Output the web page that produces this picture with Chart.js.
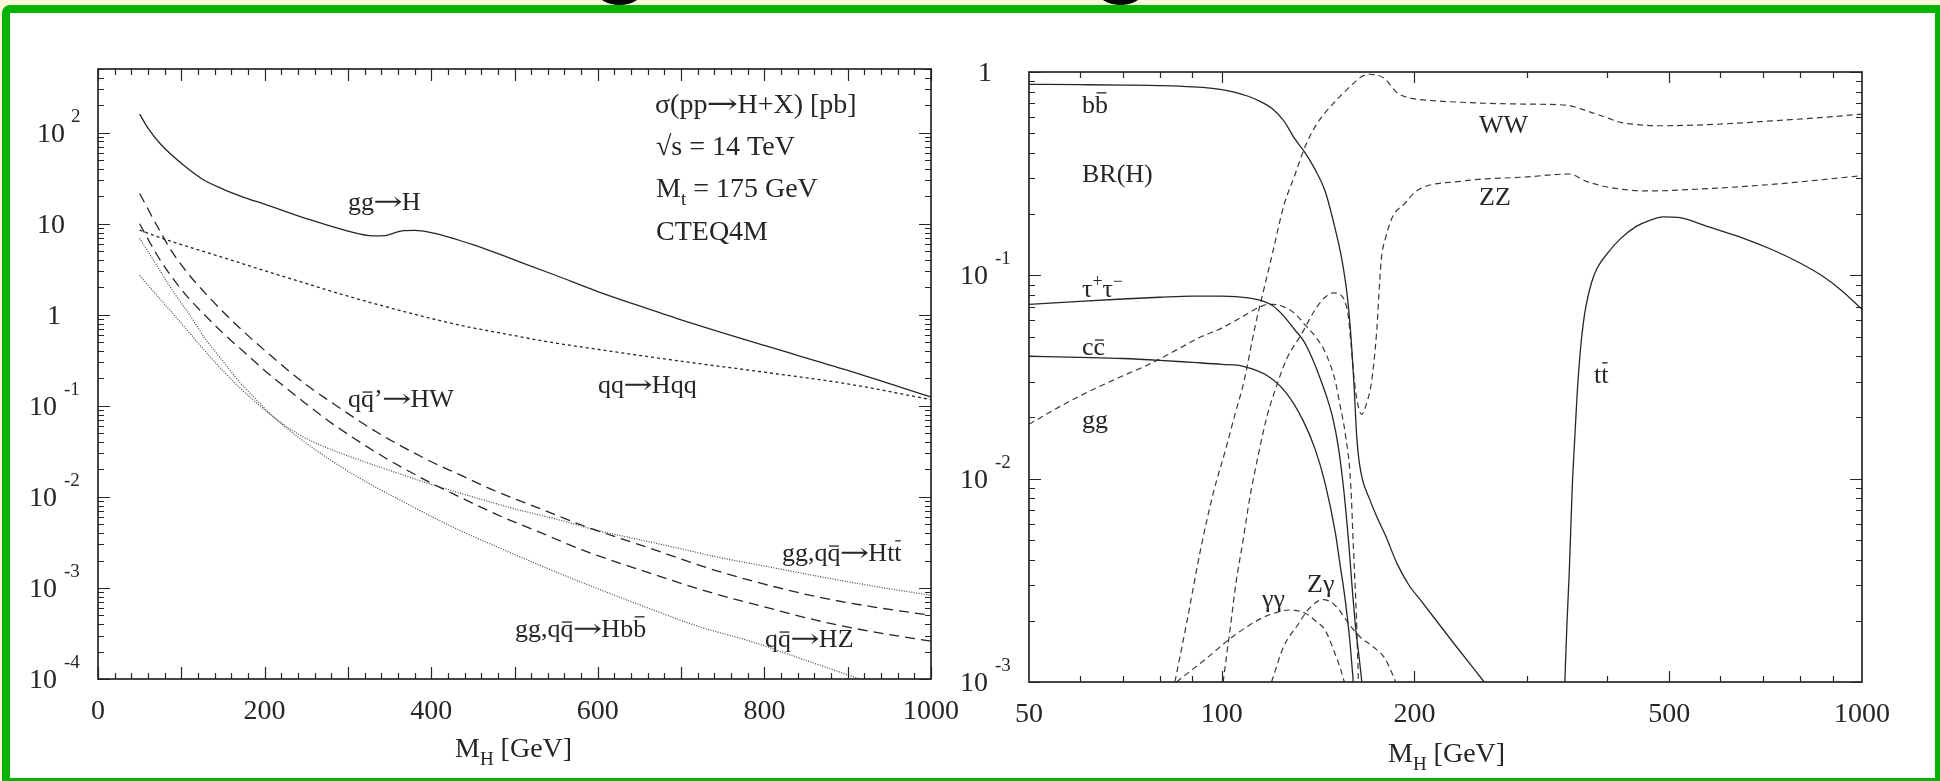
<!DOCTYPE html>
<html>
<head>
<meta charset="utf-8">
<script src="https://cdn.jsdelivr.net/npm/chart.js@4/dist/chart.umd.min.js"></script>
<style>
html, body { margin: 0; padding: 0; width: 1940px; height: 781px; overflow: hidden; background: #fff5d8; }
#frame { position: absolute; left: 2px; top: 5px; width: 1925px; height: 765px; border: 8px solid #05b305; border-top-left-radius: 8px; background: #fff; }
.blob { position: absolute; top: -22px; width: 45px; height: 27px; border-radius: 50%; background: #000; }
canvas { position: absolute; top: 0; }
#left { left: 0; }
#right { left: 940px; }
</style>
</head>
<body>
<div class="blob" style="left:597px"></div>
<div class="blob" style="left:1098px"></div>
<div id="frame"></div>
<canvas id="left" width="970" height="781"></canvas>
<canvas id="right" width="1000" height="781"></canvas>
<script>
/* ---- left panel: sigma(pp -> H+X) [pb] vs M_H ---- */
const ggH = [[50,160],[60,112],[75,75],[100,46],[125,31],[150,24],[175,19.5],[200,16.4],[250,11.4],[300,8.3],[330,7.35],[345,7.4],[355,7.9],[365,8.35],[380,8.45],[400,8.0],[450,5.9],[500,4.0],[550,2.7],[600,1.8],[650,1.25],[700,0.88],[800,0.46],[900,0.245],[1000,0.125]];
const qqHqq = [[50,8.5],[75,7.0],[100,5.9],[130,4.85],[175,3.6],[200,3.05],[237,2.4],[300,1.6],[357,1.15],[400,0.91],[437,0.76],[500,0.59],[537,0.51],[600,0.417],[700,0.309],[800,0.234],[900,0.174],[1000,0.117]];
const qqHW = [[50,21.5],[70,9.8],[89,4.9],[110,2.7],[129,1.72],[150,1.08],[173,0.676],[200,0.407],[221,0.279],[250,0.17],[276,0.116],[336,0.0506],[396,0.0254],[436,0.0172],[477,0.0116],[530,0.00746],[582,0.00485],[660,0.00278],[743,0.00154],[800,0.0011],[863,0.0008],[930,0.00062],[1000,0.0005]];
const qqHZ = [[50,10],[70,4.68],[89,2.57],[110,1.48],[129,0.977],[150,0.63],[173,0.407],[200,0.245],[221,0.17],[250,0.105],[276,0.069],[336,0.030],[396,0.0148],[436,0.0098],[477,0.0065],[530,0.0041],[582,0.0026],[660,0.00148],[743,0.00085],[800,0.00062],[863,0.00044],[930,0.00033],[1000,0.00026]];
const ggHtt = [[50,2.7],[70,1.66],[89,1.05],[110,0.63],[129,0.394],[150,0.243],[169,0.162],[190,0.108],[209,0.0776],[230,0.0562],[250,0.0437],[280,0.0331],[317,0.0248],[360,0.0182],[396,0.0141],[450,0.01],[500,0.0074],[550,0.0057],[600,0.00427],[650,0.00339],[700,0.00269],[743,0.00219],[800,0.00174],[863,0.00135],[930,0.00105],[1000,0.00083]];
const ggHbb = [[50,6.9],[70,3.55],[89,1.87],[110,1.0],[129,0.541],[150,0.309],[169,0.187],[190,0.117],[209,0.078],[245,0.042],[280,0.0251],[317,0.0155],[360,0.0095],[423,0.0048],[480,0.0028],[543,0.00159],[600,0.00098],[663,0.00059],[720,0.00038],[783,0.00026],[850,0.00016],[915,0.0001],[940,0.000085]];

/* ---- right panel: BR(H) vs M_H ---- */
const brBB = [[50,0.87],[60,0.866],[70,0.862],[80,0.857],[90,0.845],[100,0.82],[105,0.795],[110,0.76],[115,0.715],[120,0.66],[125,0.575],[130,0.47],[135,0.40],[140,0.33],[145,0.26],[150,0.175],[154,0.12],[157,0.08],[159,0.052],[161,0.028],[162.5,0.016],[164,0.012],[166,0.0098],[170,0.008],[175,0.0064],[180,0.0053],[188,0.0038],[196,0.003],[205,0.0025],[230,0.00156],[257,0.001]];
const brTauTau = [[50,0.072],[60,0.0745],[70,0.0765],[80,0.078],[90,0.079],[100,0.079],[110,0.0775],[116,0.0747],[120,0.071],[125,0.063],[130,0.054],[134,0.048],[138,0.040],[142,0.032],[146,0.025],[149,0.020],[152,0.0145],[154.5,0.0098],[156.5,0.0066],[158,0.0047],[160,0.0028],[162,0.0018],[164,0.0013],[165.5,0.001]];
const brCC = [[50,0.040],[60,0.0395],[70,0.039],[80,0.0382],[90,0.0373],[100,0.0365],[108,0.0357],[118,0.032],[126,0.0265],[134,0.0193],[140,0.0139],[145,0.0095],[150.5,0.0054],[153,0.0038],[156,0.0025],[158.5,0.0016],[160.5,0.001]];
const brGG = [[50,0.0185],[55,0.022],[60,0.0255],[70,0.032],[77,0.0365],[85,0.043],[93,0.050],[100,0.055],[108,0.063],[116,0.071],[120,0.072],[125,0.070],[130,0.065],[135,0.057],[140,0.050],[145,0.042],[150.5,0.030],[153,0.023],[156,0.0165],[159,0.0095],[160.6,0.0045],[162.3,0.0021],[163.5,0.001]];
const brWW = [[84.5,0.001],[88,0.0019],[92.7,0.0045],[97,0.0085],[101.4,0.0139],[105,0.021],[108.2,0.0296],[113,0.058],[116,0.082],[120,0.128],[125,0.22],[130,0.31],[135,0.43],[140,0.54],[145,0.63],[150,0.71],[155,0.79],[160,0.87],[165,0.945],[170,0.975],[175,0.965],[180,0.925],[184,0.85],[188,0.79],[195,0.75],[202,0.735],[236,0.71],[300,0.695],[345,0.687],[371,0.645],[400,0.595],[420,0.565],[450,0.55],[483,0.544],[550,0.548],[650,0.562],[723,0.575],[850,0.595],[1000,0.62]];
const brZZ = [[100.5,0.001],[103,0.0018],[105.3,0.0031],[108,0.005],[110.5,0.0079],[114,0.013],[117.7,0.0203],[122,0.029],[126.2,0.0386],[133.5,0.052],[140,0.068],[145,0.078],[149.3,0.082],[152.5,0.081],[155.3,0.076],[157.5,0.064],[159,0.048],[161,0.031],[163,0.0235],[165.4,0.0207],[168,0.023],[171.4,0.030],[174.5,0.052],[177.5,0.12],[180,0.15],[185,0.195],[193,0.225],[201.5,0.26],[236,0.29],[300,0.305],[349,0.315],[371,0.29],[400,0.272],[461,0.26],[550,0.265],[723,0.28],[1000,0.309]];
const brGamGam = [[85,0.001],[95,0.00132],[104,0.00167],[115,0.00205],[122,0.0022],[127,0.00226],[135,0.00218],[140,0.002],[145,0.0018],[150,0.0014],[153,0.00118],[155.4,0.001]];
const brZGam = [[119.6,0.001],[125,0.0015],[131,0.00188],[137,0.0023],[144,0.00254],[150,0.0024],[159,0.00188],[165,0.00165],[172,0.0015],[180,0.0013],[187,0.001]];
const brTT = [[343.5,0.001],[346,0.0019],[349,0.0035],[352.6,0.0088],[356,0.016],[359,0.026],[363,0.042],[367,0.058],[371,0.072],[378,0.092],[385.5,0.108],[400,0.128],[420,0.152],[444,0.174],[465,0.186],[489,0.194],[520,0.192],[570,0.175],[650,0.153],[723,0.134],[800,0.115],[864,0.10],[930,0.084],[1000,0.068]];

/* ticks and tick labels */
const leftXLabels = [0, 200, 400, 600, 800, 1000];
const leftYDecades = [-4, -3, -2, -1, 0, 1, 2];
const rightXLabels = [50, 100, 200, 500, 1000];
const rightXMajor = [100, 200, 500];
const rightXMinor = [60, 70, 80, 90, 300, 400, 600, 700, 800, 900];
const rightYDecades = [-3, -2, -1, 0];

const INK = '#262626';
const FONT = '"Liberation Serif", "Times New Roman", serif';
const ARROW_FONT = '"DejaVu Serif", serif';

function pts(arr) { return arr.map(([x, y]) => ({ x, y })); }

function line(arr, dash, width, color) {
  return {
    data: pts(arr),
    borderColor: color || INK,
    borderWidth: width || 1.3,
    borderDash: dash || [],
    pointRadius: 0,
    fill: false,
    cubicInterpolationMode: 'monotone'
  };
}

/* text with optional sup / sub / overbar / arrow parts: [text, mode] */
function rich(ctx, x, y, parts, size) {
  let cx = x;
  ctx.textAlign = 'left';
  ctx.textBaseline = 'alphabetic';
  for (const [t, m] of parts) {
    const small = m === 'sup' || m === 'sub';
    const s = small ? Math.round(size * 0.68) : size;
    ctx.font = s + 'px ' + (m === 'arr' ? ARROW_FONT : FONT);
    const dy = m === 'sup' ? -size * 0.4 : m === 'sub' ? size * 0.28 : 0;
    let w = ctx.measureText(t).width;
    if (m === 'arr') {
      // long thin arrow as in the original typesetting
      const sx = 1.35;
      ctx.save();
      ctx.translate(cx - size * 0.03, y);
      ctx.scale(sx, 1);
      ctx.fillText(t, 0, 0);
      ctx.restore();
      w = w * sx - size * 0.06;
    } else {
      ctx.fillText(t, cx, y + dy);
    }
    if (m === 'bar' || m === 'barhi') {
      const by = y - size * (m === 'barhi' ? 0.8 : 0.6);
      ctx.fillRect(cx + w * 0.12, by, w * 0.76, 1.3);
    }
    cx += w;
  }
  return cx - x;
}

function yTickLabel(ctx, py, left, k) {
  ctx.fillStyle = INK;
  ctx.textBaseline = 'alphabetic';
  ctx.font = '28px ' + FONT;
  ctx.textAlign = 'right';
  if (k === 0) { ctx.fillText('1', left - 37, py + 9); return; }
  if (k === 1) { ctx.fillText('10', left - 33, py + 9); return; }
  const sup = String(k);
  const baseRight = k < 0 ? left - 41 : left - 33;
  const supLeft = k < 0 ? left - 34 : left - 27;
  ctx.fillText('10', baseRight, py + 9);
  ctx.font = '19px ' + FONT;
  ctx.textAlign = 'left';
  ctx.fillText(sup, supLeft, py - 11);
}

function framePlugin(cfg) {
  return {
    id: 'frameTicks',
    afterDatasetsDraw(chart) {
      const { ctx, chartArea: a, scales: { x, y } } = chart;
      ctx.save();
      ctx.strokeStyle = INK;
      ctx.fillStyle = INK;
      ctx.lineWidth = 1.2;
      ctx.beginPath();
      cfg.xTicks.forEach(([v, len]) => {
        const px = Math.round(x.getPixelForValue(v)) + 0.5;
        ctx.moveTo(px, a.bottom); ctx.lineTo(px, a.bottom - len);
        ctx.moveTo(px, a.top); ctx.lineTo(px, a.top + len);
      });
      cfg.yTicks.forEach(([v, len]) => {
        const py = Math.round(y.getPixelForValue(v)) + 0.5;
        ctx.moveTo(a.left, py); ctx.lineTo(a.left + len, py);
        ctx.moveTo(a.right, py); ctx.lineTo(a.right - len, py);
      });
      ctx.stroke();
      ctx.lineWidth = 1.7;
      ctx.strokeRect(a.left, a.top, a.right - a.left, a.bottom - a.top);

      ctx.font = '28px ' + FONT;
      ctx.textAlign = 'center';
      ctx.textBaseline = 'alphabetic';
      cfg.xLabels.forEach(v => ctx.fillText(String(v), x.getPixelForValue(v), a.bottom + 40));
      cfg.yDecades.forEach(k => yTickLabel(ctx, y.getPixelForValue(Math.pow(10, k)), a.left, k));
      cfg.texts(ctx, chart);
      ctx.restore();
    }
  };
}

/* tick lists */
const leftXTicks = [];
for (let v = 0; v <= 1000; v += 20) leftXTicks.push([v, v % 100 === 0 ? 12 : 6]);
const leftYTicks = [];
leftYDecades.forEach(k => {
  leftYTicks.push([Math.pow(10, k), 12]);
  for (let m = 2; m <= 9; m++) if (m * Math.pow(10, k) <= 500) leftYTicks.push([m * Math.pow(10, k), 6]);
});
const rightXTicks = rightXMajor.map(v => [v, 11]).concat(rightXMinor.map(v => [v, 6]));
const rightYTicks = [];
rightYDecades.forEach(k => {
  rightYTicks.push([Math.pow(10, k), 12]);
  if (k < 0) for (let m = 2; m <= 9; m++) rightYTicks.push([m * Math.pow(10, k), 6]);
});

function noUi() {
  return { legend: { display: false }, tooltip: { enabled: false } };
}

const ARR = ['→', 'arr'];

/* left chart */
new Chart(document.getElementById('left'), {
  type: 'line',
  data: {
    datasets: [
      line(ggH),
      line(qqHqq, [3, 3], 1.3),
      line(qqHW, [10, 6], 1.3),
      line(qqHZ, [10, 6], 1.3),
      line(ggHtt, [1, 1.5], 1.2, '#444'),
      line(ggHbb, [1, 1.5], 1.2, '#444')
    ]
  },
  options: {
    responsive: false,
    animation: false,
    events: [],
    layout: { padding: { left: 98, top: 69, right: 39, bottom: 102 } },
    scales: {
      x: { type: 'linear', min: 0, max: 1000, display: false },
      y: { type: 'logarithmic', min: 1e-4, max: 500, display: false }
    },
    plugins: noUi()
  },
  plugins: [framePlugin({
    xTicks: leftXTicks, yTicks: leftYTicks, xLabels: leftXLabels, yDecades: leftYDecades,
    texts(ctx) {
      rich(ctx, 655, 113, [['σ(pp'], ARR, ['H+X) [pb]']], 28);
      rich(ctx, 656, 155, [['√s = 14 TeV']], 28);
      rich(ctx, 656, 197, [['M'], ['t', 'sub'], [' = 175 GeV']], 28);
      rich(ctx, 656, 240, [['CTEQ4M']], 28);
      rich(ctx, 348, 210, [['gg'], ARR, ['H']], 26);
      rich(ctx, 598, 393, [['qq'], ARR, ['Hqq']], 26);
      rich(ctx, 348, 407, [['q'], ['q', 'bar'], ['’'], ARR, ['HW']], 26);
      rich(ctx, 782, 561, [['gg,q'], ['q', 'bar'], ARR, ['Ht'], ['t', 'barhi']], 26);
      rich(ctx, 515, 637, [['gg,q'], ['q', 'bar'], ARR, ['Hb'], ['b', 'barhi']], 26);
      rich(ctx, 765, 647, [['q'], ['q', 'bar'], ARR, ['HZ']], 26);
      rich(ctx, 455, 757, [['M'], ['H', 'sub'], [' [GeV]']], 28);
    }
  })]
});

/* right chart */
const dashR = [6, 4];
new Chart(document.getElementById('right'), {
  type: 'line',
  data: {
    datasets: [
      line(brBB),
      line(brTauTau),
      line(brCC),
      line(brTT),
      line(brGG, dashR, 1.2, '#3a3a3a'),
      line(brWW, dashR, 1.2, '#3a3a3a'),
      line(brZZ, dashR, 1.2, '#3a3a3a'),
      line(brGamGam, dashR, 1.2, '#3a3a3a'),
      line(brZGam, dashR, 1.2, '#3a3a3a')
    ]
  },
  options: {
    responsive: false,
    animation: false,
    events: [],
    layout: { padding: { left: 89, top: 72, right: 78, bottom: 99 } },
    scales: {
      x: { type: 'logarithmic', min: 50, max: 1000, display: false },
      y: { type: 'logarithmic', min: 1e-3, max: 1, display: false }
    },
    plugins: noUi()
  },
  plugins: [framePlugin({
    xTicks: rightXTicks, yTicks: rightYTicks, xLabels: rightXLabels, yDecades: rightYDecades,
    texts(ctx) {
      const o = -940;
      rich(ctx, 1082 + o, 113, [['b'], ['b', 'barhi']], 26);
      rich(ctx, 1082 + o, 182, [['BR(H)']], 26);
      rich(ctx, 1479 + o, 133, [['WW']], 26);
      rich(ctx, 1479 + o, 205, [['ZZ']], 26);
      rich(ctx, 1082 + o, 297, [['τ'], ['+', 'sup'], ['τ'], ['−', 'sup']], 26);
      rich(ctx, 1082 + o, 355, [['c'], ['c', 'bar']], 26);
      rich(ctx, 1594 + o, 383, [['t'], ['t', 'barhi']], 26);
      rich(ctx, 1082 + o, 428, [['gg']], 26);
      rich(ctx, 1262 + o, 607, [['γγ']], 26);
      rich(ctx, 1307 + o, 592, [['Zγ']], 26);
      rich(ctx, 1388 + o, 762, [['M'], ['H', 'sub'], [' [GeV]']], 28);
    }
  })]
});
</script>
</body>
</html>
